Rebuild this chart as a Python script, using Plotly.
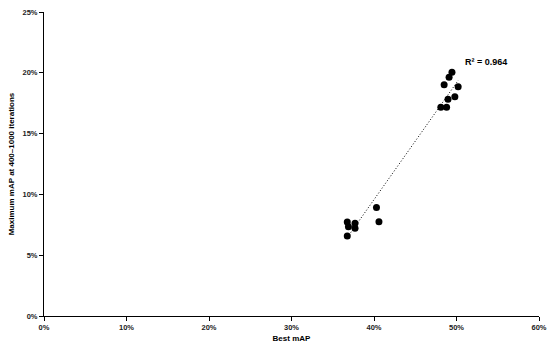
import numpy as np
import plotly.graph_objects as go

# Best mAP (%) vs maximum mAP at 400-1000 iterations (%)
best_map = [49.45, 49.1, 48.5, 50.2, 48.97, 49.8, 48.1, 48.8,
            40.3, 36.76, 37.7, 36.9, 37.7, 36.76, 40.6]
max_map = [20.04, 19.63, 19.02, 18.86, 17.82, 18.03, 17.16, 17.16,
           8.92, 7.73, 7.62, 7.34, 7.21, 6.58, 7.75]

x = np.array(best_map) / 100
y = np.array(max_map) / 100

# linear trendline and R^2
slope, intercept = np.polyfit(x, y, 1)
pred = slope * x + intercept
r2 = 1 - ((y - pred) ** 2).sum() / ((y - y.mean()) ** 2).sum()
xt = np.array([x.min(), x.max()])
yt = slope * xt + intercept

fig = go.Figure()
fig.add_trace(go.Scatter(x=xt, y=yt, mode='lines',
                         line=dict(color='black', width=1, dash='1px,2px'), hoverinfo='skip'))
fig.add_trace(go.Scatter(x=x, y=y, mode='markers',
                         marker=dict(color='black', size=7)))
fig.add_annotation(x=0.508, y=0.209, text='<b>R² = %.3f</b>' % r2, showarrow=False,
                   xanchor='left', font=dict(size=9, color='black', family='Liberation Sans'))

axis_style = dict(showline=True, linecolor='black', linewidth=1, ticks='outside',
                  ticklen=4, tickcolor='black', showgrid=False, zeroline=False,
                  tickformat='.0%', tickfont=dict(size=7.5, color='#222', weight='bold'),
                  mirror=False, automargin=False)
fig.update_xaxes(range=[0, 0.6], dtick=0.1, title=dict(text='<b>Best mAP</b>', font=dict(size=8, color='black'), standoff=4), **axis_style)
fig.update_yaxes(range=[0, 0.25], dtick=0.05, title=dict(text='<b>Maximum mAP at 400–1000 iterations</b>', font=dict(size=8, color='black'), standoff=6), **axis_style)

fig.update_layout(width=550, height=350, showlegend=False, template='none',
                  plot_bgcolor='white', paper_bgcolor='white',
                  font=dict(family='Liberation Sans', color='black'),
                  margin=dict(l=44, r=11, t=12, b=34))
# drop the page's default body margin so the figure sits at the top-left corner
fig.write_html("out.html", config={'displayModeBar': False},
               post_script="document.body.style.margin='0';")
